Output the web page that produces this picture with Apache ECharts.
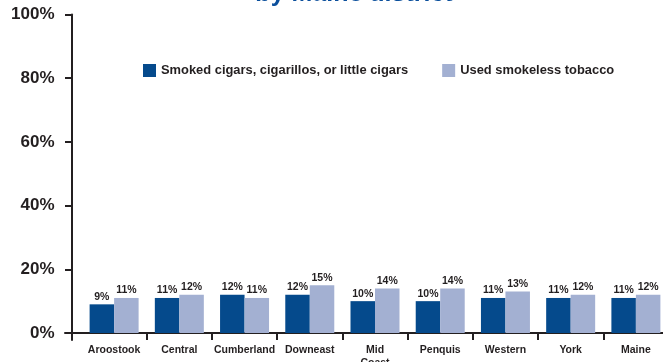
<!DOCTYPE html>
<html>
<head>
<meta charset="utf-8">
<script src="https://cdn.jsdelivr.net/npm/echarts@6/dist/echarts.min.js"></script>
<style>
  html, body { margin: 0; padding: 0; background: #ffffff; }
  #chart { width: 663px; height: 362px; }
</style>
</head>
<body>
<div id="chart"></div>
<script>
// Tobacco use by Maine district
const districts = ['Aroostook', 'Central', 'Cumberland', 'Downeast', 'Mid\nCoast', 'Penquis', 'Western', 'York', 'Maine'];
const cigarsPct = [9, 11, 12, 12, 10, 10, 11, 11, 11];
const smokelessPct = [11, 12, 11, 15, 14, 14, 13, 12, 12];
const yTicks = [0, 20, 40, 60, 80, 100];
const seriesNames = ['Smoked cigars, cigarillos, or little cigars', 'Used smokeless tobacco'];

const DARK = '#054a8c';
const LIGHT = '#a3b0d2';
const INK = '#231f20';
const FONT = '"Liberation Sans", Arial, Helvetica, sans-serif';

const chart = echarts.init(document.getElementById('chart'), null, { renderer: 'canvas' });

const valueLabel = {
  show: true,
  position: 'top',
  distance: 2,
  formatter: p => p.value + '%',
  color: INK,
  fontFamily: FONT,
  fontWeight: 'bold',
  fontSize: 10.5
};

chart.setOption({
  animation: false,
  backgroundColor: '#ffffff',
  title: {
    text: 'by Maine district',
    left: 349,
    textAlign: 'center',
    top: -23,
    textStyle: { color: '#0b4f9c', fontFamily: FONT, fontWeight: 'bold', fontSize: 25 }
  },
  legend: {
    left: 138,
    top: 59,
    itemWidth: 13,
    itemHeight: 13,
    itemGap: 34,
    icon: 'rect',
    data: seriesNames,
    textStyle: { color: INK, fontFamily: FONT, fontWeight: 'bold', fontSize: 12.9 }
  },
  grid: [
    // plotting area for the bars
    { left: 81.5, top: 14.5, width: 587, height: 318.5, outerBoundsMode: 'none', containLabel: false },
    // frame carrying the two axis lines, which overshoot the plot a little
    { left: 65, top: 14.5, width: 603.5, height: 325.5, outerBoundsMode: 'none', containLabel: false }
  ],
  xAxis: [
    {
      gridIndex: 0,
      type: 'category',
      data: districts,
      boundaryGap: true,
      axisLine: { show: false },
      axisTick: {
        show: true,
        length: 7,
        interval: (idx) => idx !== 0,
        lineStyle: { color: INK, width: 2 }
      },
      axisLabel: {
        interval: 0,
        margin: 11,
        color: INK,
        fontFamily: FONT,
        fontWeight: 'bold',
        fontSize: 10.5,
        lineHeight: 13,
        verticalAlign: 'top'
      }
    },
    {
      gridIndex: 1,
      type: 'value',
      min: -6.7,
      max: 596.8,
      axisLine: { show: true, onZero: true, lineStyle: { color: INK, width: 2 } },
      axisTick: { show: false },
      axisLabel: { show: false },
      splitLine: { show: false }
    }
  ],
  yAxis: [
    {
      gridIndex: 0,
      type: 'value',
      min: 0,
      max: 100,
      interval: 20,
      offset: 10,
      axisLine: { show: false },
      axisTick: { show: true, length: 6.5, lineStyle: { color: INK, width: 2 } },
      splitLine: { show: false },
      axisLabel: {
        margin: 17,
        formatter: v => yTicks.includes(v) ? v + '%' : '',
        color: INK,
        fontFamily: FONT,
        fontWeight: 'bold',
        fontSize: 17
      }
    },
    {
      gridIndex: 1,
      type: 'value',
      min: -7,
      max: 318.5,
      axisLine: { show: true, onZero: true, lineStyle: { color: INK, width: 2 } },
      axisTick: { show: false },
      axisLabel: { show: false },
      splitLine: { show: false }
    }
  ],
  series: [
    {
      name: seriesNames[0],
      type: 'bar',
      xAxisIndex: 0,
      yAxisIndex: 0,
      data: cigarsPct,
      barWidth: 24.5,
      barGap: '0%',
      itemStyle: { color: DARK },
      label: valueLabel
    },
    {
      name: seriesNames[1],
      type: 'bar',
      xAxisIndex: 0,
      yAxisIndex: 0,
      data: smokelessPct,
      barWidth: 24.5,
      barGap: '0%',
      itemStyle: { color: LIGHT },
      label: valueLabel
    }
  ]
});
</script>
</body>
</html>
